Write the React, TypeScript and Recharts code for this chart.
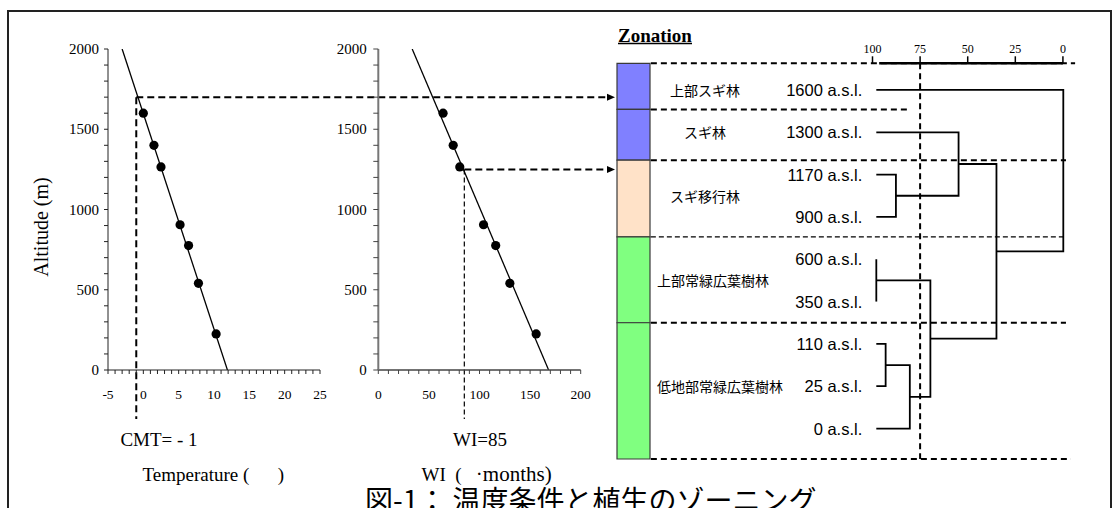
import React from "react";
import {
  ComposedChart,
  Line,
  Scatter,
  XAxis,
  YAxis,
  ReferenceLine,
  ReferenceArea,
  ReferenceDot,
} from "recharts";

// ---- data ----
const altitudes = [1600, 1400, 1265, 905, 775, 540, 225];
const tempValues = [0.0, 1.5, 2.5, 5.2, 6.4, 7.8, 10.3];
const wiValues = [64, 74, 80.5, 104, 116, 130, 156];

// fitted lines: value at 2000 m and at 0 m
const trendAlt = [2000, 0];
const tempTrend = [-3.0, 11.9];
const wiTrend = [33.5, 168.3];

const CMT = -1;
const CMT_ALT = 1700;
const WI_LIMIT = 85;
const WI_ALT = 1250;

// dendrogram (similarity %, 100 = identical)
const leafLabels = [
  "1600 a.s.l.",
  "1300 a.s.l.",
  "1170 a.s.l.",
  "900 a.s.l.",
  "600 a.s.l.",
  "350 a.s.l.",
  "110 a.s.l.",
  "25 a.s.l.",
  "0 a.s.l.",
];
const LEAF_SIM = 98;
// [clusterA, clusterB, similarity]; new cluster ids start at 9
const merges: [number, number, number][] = [
  [2, 3, 87.7],
  [4, 5, 98],
  [6, 7, 93.1],
  [8, 11, 80.4],
  [10, 12, 69.6],
  [1, 9, 54.8],
  [14, 13, 34.9],
  [0, 15, -0.2],
];
const simTicks = [100, 75, 50, 25, 0];
const CUT_SIM = 75;

// zonation column
const zoneNames = ["上部スギ林", "スギ林", "スギ移行林", "上部常緑広葉樹林", "低地部常緑広葉樹林"];
const zoneColors = ["#8080ff", "#8080ff", "#ffe2c8", "#80ff80", "#80ff80"];
const zoneEdges = [-0.63, 0.46, 1.66, 3.47, 5.5, 8.72];
const zoneLabelRows = [0, 1, 2.5, 4.5, 7];
// how far right each zone boundary guide runs (similarity units), thin or not
const guideEnds = [-6.4, 81.5, -1.6, -1.6, -1.6, -4.2];
const guideThin = [false, false, false, true, false, false];
const GUIDE_START_SIM = 216.4;

const SERIF = "'Liberation Serif', 'Times New Roman', serif";
const SANS = "'Liberation Sans', Arial, sans-serif";
const CJK = "'Noto Sans CJK JP', sans-serif";

const ARROW_TIP = 615;
const GUIDE_BOTTOM = 419;

const range = (a: number, b: number, s: number) => {
  const r: number[] = [];
  for (let v = a; v <= b + 1e-9; v += s) r.push(Math.round(v * 100) / 100);
  return r;
};

const pointsT = altitudes.map((alt, i) => ({ x: tempValues[i], alt }));
const pointsWI = altitudes.map((alt, i) => ({ x: wiValues[i], alt }));
const trendT = trendAlt.map((alt, i) => ({ x: tempTrend[i], alt }));
const trendWI = trendAlt.map((alt, i) => ({ x: wiTrend[i], alt }));

// build dendrogram links
const nodes = leafLabels.map((_, i) => ({ row: i, sim: LEAF_SIM }));
const links = merges.map(([a, b, s]) => {
  const A = nodes[a];
  const B = nodes[b];
  nodes.push({ row: (A.row + B.row) / 2, sim: s });
  return [
    { sim: A.sim, row: A.row },
    { sim: s, row: A.row },
    { sim: s, row: B.row },
    { sim: B.sim, row: B.row },
  ];
});

const AltTick = (p: any) =>
  p.payload.value % 500 === 0 ? (
    <text x={p.x} y={p.y} textAnchor="end" dominantBaseline="central" fontFamily={SERIF} fontSize={15} fill="#000">
      {p.payload.value}
    </text>
  ) : (
    <g />
  );

const makeXTick = (step: number) => (p: any) =>
  p.payload.value % step === 0 ? (
    <text x={p.x} y={p.y} dy="0.71em" textAnchor="middle" fontFamily={SERIF} fontSize={13.5} fill="#000">
      {p.payload.value}
    </text>
  ) : (
    <g />
  );

// dashed guide that continues past the plot (to an arrow tip or below the axis)
const guide =
  (opts: { toX?: number; toY?: number; width: number; dash: string; arrow?: boolean }) =>
  (p: any) => {
    const x2 = opts.toX ?? p.x2;
    const y2 = opts.toY ?? p.y2;
    return (
      <g>
        <line
          x1={p.x1}
          y1={p.y1}
          x2={opts.arrow ? x2 - 7 : x2}
          y2={y2}
          stroke="#000"
          strokeWidth={opts.width}
          strokeDasharray={opts.dash}
        />
        {opts.arrow && (
          <polygon points={`${x2},${y2} ${x2 - 8},${y2 - 3.5} ${x2 - 8},${y2 + 3.5}`} fill="#000" />
        )}
      </g>
    );
  };

const Dot = (p: any) => <circle cx={p.cx} cy={p.cy} r={4.6} fill="#000" />;

const C1 = { left: 8, width: 612 };
const C2 = { left: 330, width: 290 };
const C3 = { left: 600, width: 500 };

function TempChart() {
  return (
    <div style={{ position: "absolute", left: C1.left, top: 0 }}>
      <ComposedChart width={C1.width} height={508} margin={{ top: 49, right: 300, bottom: 108, left: 40 }}>
        <XAxis
          type="number"
          dataKey="x"
          domain={[-5, 25]}
          ticks={range(-5, 25, 1)}
          interval={0}
          allowDataOverflow
          height={30}
          tickSize={4}
          tickMargin={15}
          axisLine={{ stroke: "#222" }}
          tickLine={{ stroke: "#222" }}
          tick={makeXTick(5)}
        />
        <YAxis
          type="number"
          dataKey="alt"
          domain={[0, 2000]}
          ticks={range(0, 2000, 100)}
          interval={0}
          allowDataOverflow
          width={60}
          tickSize={4}
          tickMargin={5}
          axisLine={{ stroke: "#222" }}
          tickLine={{ stroke: "#222" }}
          tick={AltTick}
        />
        <ReferenceLine
          segment={[{ x: CMT, y: CMT_ALT }, { x: CMT, y: 0 }]}
          ifOverflow="visible"
          shape={guide({ toY: GUIDE_BOTTOM, width: 2, dash: "7 4" })}
        />
        <ReferenceLine
          segment={[{ x: CMT, y: CMT_ALT }, { x: 25, y: CMT_ALT }]}
          ifOverflow="visible"
          shape={guide({ toX: ARROW_TIP - C1.left, width: 2, dash: "7 4", arrow: true })}
        />
        <Line data={trendT} dataKey="alt" stroke="#000" strokeWidth={1.3} dot={false} isAnimationActive={false} />
        <Scatter data={pointsT} shape={Dot} isAnimationActive={false} />
      </ComposedChart>
    </div>
  );
}

function WIChart() {
  return (
    <div style={{ position: "absolute", left: C2.left, top: 0 }}>
      <ComposedChart width={C2.width} height={508} margin={{ top: 49, right: 39.3, bottom: 108, left: 8.3 }}>
        <XAxis
          type="number"
          dataKey="x"
          domain={[0, 200]}
          ticks={range(0, 200, 10)}
          interval={0}
          allowDataOverflow
          height={30}
          tickSize={4}
          tickMargin={15}
          axisLine={{ stroke: "#444", strokeWidth: 1.5 }}
          tickLine={{ stroke: "#444" }}
          tick={makeXTick(50)}
        />
        <YAxis
          type="number"
          dataKey="alt"
          domain={[0, 2000]}
          ticks={range(0, 2000, 100)}
          interval={0}
          allowDataOverflow
          width={40}
          tickSize={5}
          tickMargin={6.6}
          axisLine={{ stroke: "#777", strokeWidth: 2 }}
          tickLine={{ stroke: "#444" }}
          tick={AltTick}
        />
        <ReferenceLine
          segment={[{ x: WI_LIMIT, y: WI_ALT }, { x: WI_LIMIT, y: 0 }]}
          ifOverflow="visible"
          shape={guide({ toY: GUIDE_BOTTOM, width: 1.2, dash: "5 3" })}
        />
        <ReferenceLine
          segment={[{ x: WI_LIMIT, y: WI_ALT }, { x: 200, y: WI_ALT }]}
          ifOverflow="visible"
          shape={guide({ toX: ARROW_TIP - C2.left, width: 2, dash: "7 4", arrow: true })}
        />
        <Line data={trendWI} dataKey="alt" stroke="#000" strokeWidth={1.3} dot={false} isAnimationActive={false} />
        <Scatter data={pointsWI} shape={Dot} isAnimationActive={false} />
      </ComposedChart>
    </div>
  );
}

const leafLabelShape = (label: string) => (p: any) => (
  <text x={p.cx - 14} y={p.cy} textAnchor="end" dominantBaseline="central" fontFamily={SANS} fontSize={16.5} fill="#000">
    {label}
  </text>
);

const zoneLabelShape = (name: string) => (p: any) => {
  const w = name.length * 14;
  const centered = 55 - w / 2 >= 7;
  return (
    <text
      x={centered ? p.cx + 55 : p.cx + 7}
      y={p.cy}
      textAnchor={centered ? "middle" : "start"}
      dominantBaseline="central"
      fontFamily={CJK}
      fontSize={14}
      fill="#000"
    >
      {name}
    </text>
  );
};

function ZonationChart() {
  return (
    <div style={{ position: "absolute", left: C3.left, top: 0 }}>
      <ComposedChart width={C3.width} height={508} margin={{ top: 33.3, right: 24, bottom: 49, left: 17 }}>
        <XAxis
          xAxisId="sim"
          type="number"
          dataKey="sim"
          orientation="top"
          domain={[-0.2, 100]}
          reversed
          ticks={simTicks}
          interval={0}
          height={30}
          padding={{ left: 255.5, right: 12.7 }}
          tickSize={7}
          tickMargin={3}
          axisLine={false}
          tickLine={{ stroke: "#000", strokeWidth: 1.5 }}
          tick={{ fontSize: 12, fontFamily: SERIF, fill: "#000" }}
        />
        <XAxis
          xAxisId="zone"
          type="number"
          dataKey="zx"
          domain={[0, 1]}
          allowDataOverflow
          hide
          height={0}
          padding={{ left: 0, right: 426 }}
        />
        <YAxis yAxisId="row" type="number" dataKey="row" domain={[zoneEdges[0], zoneEdges[5]]} reversed hide width={0} />
        {zoneNames.map((n, i) => (
          <ReferenceArea
            key={n}
            xAxisId="zone"
            yAxisId="row"
            x1={0}
            x2={1}
            y1={zoneEdges[i]}
            y2={zoneEdges[i + 1]}
            fill={zoneColors[i]}
            fillOpacity={1}
            stroke="#3a3a3a"
            strokeWidth={1.2}
            ifOverflow="visible"
          />
        ))}
        {zoneEdges.map((e, i) => (
          <ReferenceLine
            key={"g" + i}
            xAxisId="sim"
            yAxisId="row"
            segment={[{ x: GUIDE_START_SIM, y: e }, { x: guideEnds[i], y: e }]}
            ifOverflow="visible"
            stroke="#000"
            strokeWidth={guideThin[i] ? 1.2 : 2}
            strokeDasharray={guideThin[i] ? "5 3" : "6 4"}
          />
        ))}
        {/* similarity axis line */}
        <ReferenceLine
          xAxisId="sim"
          yAxisId="row"
          segment={[{ x: 96.5, y: zoneEdges[0] }, { x: 0, y: zoneEdges[0] }]}
          ifOverflow="visible"
          stroke="#000"
          strokeWidth={2.5}
        />
        <ReferenceLine xAxisId="sim" yAxisId="row" x={CUT_SIM} stroke="#000" strokeWidth={2} strokeDasharray="6 4" ifOverflow="visible" />
        {links.map((pts, i) => (
          <Line
            key={"l" + i}
            xAxisId="sim"
            yAxisId="row"
            data={pts}
            dataKey="row"
            type="linear"
            stroke="#000"
            strokeWidth={1.8}
            dot={false}
            isAnimationActive={false}
          />
        ))}
        {leafLabels.map((label, i) => (
          <ReferenceDot
            key={label}
            xAxisId="sim"
            yAxisId="row"
            x={LEAF_SIM}
            y={i}
            ifOverflow="visible"
            shape={leafLabelShape(label)}
          />
        ))}
        {zoneNames.map((name, i) => (
          <ReferenceDot
            key={"z" + name}
            xAxisId="zone"
            yAxisId="row"
            x={1}
            y={zoneLabelRows[i]}
            ifOverflow="visible"
            shape={zoneLabelShape(name)}
          />
        ))}
      </ComposedChart>
    </div>
  );
}

export default function App() {
  const nb = "\u00A0";
  return (
    <div style={{ position: "absolute", left: 0, top: 0, width: 1120, height: 508, overflow: "hidden", background: "#fff" }}>
      <div
        style={{
          position: "absolute",
          left: 7,
          top: 10,
          width: 1105,
          height: 600,
          border: "2px solid #222",
          boxSizing: "border-box",
        }}
      />
      <svg width={1120} height={508} style={{ position: "absolute", left: 0, top: 0 }}>
        <text transform="translate(41,227) rotate(-90)" textAnchor="middle" dominantBaseline="central" fontFamily={SERIF} fontSize={20} fill="#000">
          Altitude (m)
        </text>
        <text x={159} y={439} textAnchor="middle" dominantBaseline="central" fontFamily={SERIF} fontSize={19} fill="#000">
          CMT= - 1
        </text>
        <text x={142.5} y={474} dominantBaseline="central" fontFamily={SERIF} fontSize={19} fill="#000">
          {"Temperature (" + nb.repeat(6) + ")"}
        </text>
        <text x={480} y={439} textAnchor="middle" dominantBaseline="central" fontFamily={SERIF} fontSize={19} fill="#000">
          WI=85
        </text>
        <text x={421.5} y={474} dominantBaseline="central" fontFamily={SERIF} fontSize={19} fill="#000">
          {"WI" + nb + nb + "(" + nb.repeat(3)}
          <tspan fontSize={21}>·months)</tspan>
        </text>
        <text x={618} y={35} dominantBaseline="central" fontFamily={SERIF} fontSize={19} fontWeight="bold" fill="#000">
          Zonation
        </text>
        <line x1={618} x2={692} y1={43.5} y2={43.5} stroke="#000" strokeWidth={1.5} />
        <text x={365} y={511} fontFamily={CJK} fontSize={28} fill="#000">
          図-1： 温度条件と植生のゾーニング
        </text>
      </svg>
      <TempChart />
      <WIChart />
      <ZonationChart />
    </div>
  );
}
